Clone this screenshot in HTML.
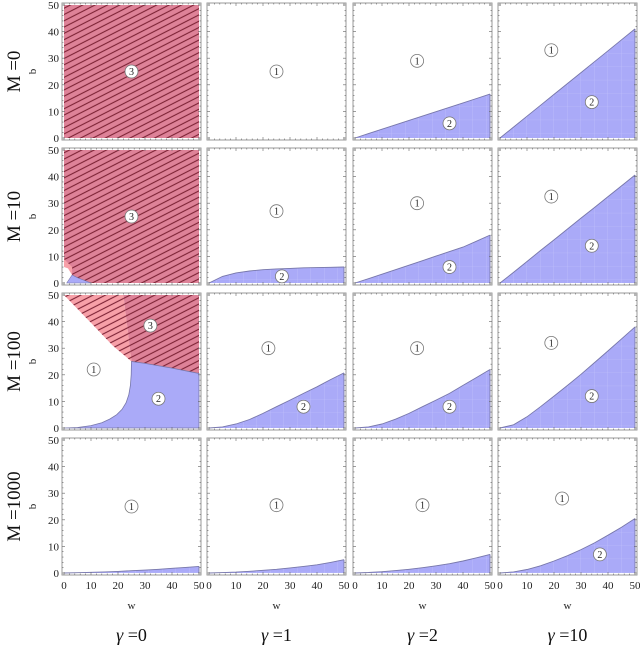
<!DOCTYPE html>
<html><head><meta charset="utf-8"><style>
body{margin:0;background:#fff;width:640px;height:645px;overflow:hidden}
text{font-family:"Liberation Serif","Times New Roman",Times,serif}
</style></head><body>
<svg id="c" width="640" height="645" viewBox="0 0 640 645" xmlns="http://www.w3.org/2000/svg">
<defs>
<pattern id="hatch" patternUnits="userSpaceOnUse" width="10" height="5.6" patternTransform="rotate(-27)">
<line x1="0" y1="2.8" x2="10" y2="2.8" stroke="#7c2234" stroke-width="1.1"/>
</pattern>
<pattern id="bgrid" patternUnits="userSpaceOnUse" width="13.5" height="13.3">
<path d="M0 0H13.5M0 0V13.3" stroke="#c4c4fb" stroke-width="0.6" fill="none"/>
</pattern>
</defs>
</svg>
<script>
// ---- data ----
const mLabels=["M =0","M =10","M =100","M =1000"];
const gammaLabels=["=0","=1","=2","=10"];
const tickVals=[0,10,20,30,40,50];
const wGrid=[0,5,10,15,20,25,30,35,40,45,50];
const r1c3=[0,1.65,3.3,4.95,6.6,8.25,9.9,11.55,13.2,14.85,16.5];
const r1c4=[0,4.1,8.2,12.3,16.4,20.5,24.6,28.7,32.8,36.9,41];
const r2c2=[0,2.5,3.8,4.5,5,5.3,5.5,5.7,5.8,5.9,6];
const r2c3=[0,1.6,3.3,5,6.7,8.4,10.1,11.8,13.5,15.7,18];
const r2c4=[0,4,8.1,12.2,16.2,20.3,24.4,28.4,32.5,36.5,40.6];
const r3c2=[0,0.4,1.5,3.2,5.5,8,10.5,13,15.5,18.2,20.7];
const r3c3=[0,0.4,1.5,3.3,5.5,8,10.5,13,16,19,22];
const r3c4=[0,1.2,4.2,8,12,16,20.2,24.6,29,33.5,38];
const r4c1=[0,0.1,0.25,0.4,0.6,0.85,1.1,1.4,1.75,2.1,2.5];
const r4c2=[0,0.15,0.35,0.65,1,1.4,1.9,2.5,3.1,4,5];
const r4c3=[0,0.2,0.5,0.9,1.4,2,2.7,3.5,4.5,5.7,7];
const r4c4=[0,0.4,1.3,2.7,4.5,6.5,8.8,11.3,14.2,17.2,20.5];
const curves=[[null,null,r1c3,r1c4],[null,r2c2,r2c3,r2c4],[null,r3c2,r3c3,r3c4],[r4c1,r4c2,r4c3,r4c4]];
const r2c1White=[[0,0],[0,6],[1.5,5.5],[3,3],[1,0]];
const r2c1Blue=[[1,0],[3,3],[5,2],[8,0.8],[10,0]];
const r3c1Light=[[0,50],[22,50],[25,25],[18,31],[10,39.5],[0,50]];
const r3c1Dark=[[22,50],[50,50],[50,20.5],[40,22.5],[30,24.3],[25,25]];
const r3c1Blue=[[0,0],[5,0.2],[10,0.9],[14,2],[17,3.4],[19.5,5],[21.5,7],[23,9.5],[24,12.5],[24.6,16],[24.9,20],[25,25],[30,24.3],[40,22.5],[50,20.5],[50,0]];
const labels=[[0,0,25,25,"3"],[0,1,25,25,"1"],[0,2,23,29,"1"],[0,2,35,5.5,"2"],[0,3,19,33,"1"],[0,3,34,13.5,"2"],
[1,0,25,25,"3"],[1,1,25,27,"1"],[1,1,27,2.5,"2"],[1,2,23,30,"1"],[1,2,35,6,"2"],[1,3,19,32.5,"1"],[1,3,34,14,"2"],
[2,0,32,38.5,"3"],[2,0,11,22,"1"],[2,0,35,11,"2"],[2,1,22,30,"1"],[2,1,35,8,"2"],[2,2,23,30,"1"],[2,2,35,8,"2"],[2,3,19,32,"1"],[2,3,34,12,"2"],
[3,0,25,25,"1"],[3,1,25,25.5,"1"],[3,2,25,25.5,"1"],[3,3,23,28,"1"],[3,3,37,7,"2"]];
// ---- layout ----
const colX=[64,209,355,500], rowY=[5,150,295,440], PW=135, PH=133;
const svg=document.getElementById('c');
const NS="http://www.w3.org/2000/svg";
const FF='"Liberation Serif","Times New Roman",Times,serif';
function mk(t,a,p){const e=document.createElementNS(NS,t);for(const k in a)e.setAttribute(k,a[k]);if(t==='text')e.style.fontFamily=FF;(p||svg).appendChild(e);return e;}
function sx(c,w){return colX[c]+w/50*PW;}
function sy(r,b){return rowY[r]+PH-b/50*PH;}
function polyStr(r,c,pts){return pts.map(p=>sx(c,p[0]).toFixed(1)+","+sy(r,p[1]).toFixed(1)).join(" ");}
for(let r=0;r<4;r++)for(let c=0;c<4;c++){
 const g=mk('g',{});
 
 
 const x0=colX[c],y0=rowY[r];
 mk('rect',{x:x0-2,y:y0-2,width:PW+4,height:PH+4,fill:'#fff',stroke:'#999','stroke-width':1},g);
 const cv=curves[r][c];
 if(r<2&&c===0){
  const red=mk('rect',{x:x0,y:y0,width:PW,height:PH,fill:'#de8298'},g);
  
  mk('rect',{x:x0,y:y0,width:PW,height:PH,fill:'url(#hatch)'},g);
  if(r===1){
   mk('polygon',{points:polyStr(r,c,[[0,3],[0,9],[3,6],[3,3]]),fill:'#f7a0a8'},g);
   mk('polygon',{points:polyStr(r,c,r2c1White),fill:'#fff'},g);
   const b=mk('polygon',{points:polyStr(r,c,r2c1Blue),fill:'#aaaaf8',stroke:'#7777aa','stroke-width':0.6},g);
   
  }
 } else if(r===2&&c===0){
  mk('polygon',{points:polyStr(r,c,r3c1Light),fill:'#f7a0a8'},g);
  mk('polygon',{points:polyStr(r,c,r3c1Dark),fill:'#de8298'},g);
  mk('polygon',{points:polyStr(r,c,r3c1Light),fill:'url(#hatch)'},g);
  mk('polygon',{points:polyStr(r,c,r3c1Dark),fill:'url(#hatch)'},g);
  const b=mk('polygon',{points:polyStr(r,c,r3c1Blue),fill:'#aaaaf8',stroke:'#7777aa','stroke-width':0.8},g);
  
 } else if(cv){
  const pts=wGrid.map((w,i)=>[w,cv[i]]);pts.push([50,0]);
  const p=mk('polygon',{points:polyStr(r,c,pts),fill:'#aaaaf8'},g);
  
  mk('polygon',{points:polyStr(r,c,pts),fill:'url(#bgrid)'},g);
  mk('polyline',{points:polyStr(r,c,wGrid.map((w,i)=>[w,cv[i]])),fill:'none',stroke:'#7777aa','stroke-width':0.9},g);
  mk('line',{x1:sx(c,50),y1:sy(r,0),x2:sx(c,50),y2:sy(r,cv[10]),stroke:'#7777aa','stroke-width':0.9},g);
 }
 let d="";
 for(let v=0;v<=50;v+=2){const L=(v%10===0)?3:1.5;const X=sx(c,v),Y=sy(r,v);
  d+=`M${X} ${y0+PH+2}v${-L}M${X} ${y0-2}v${L}M${x0-2} ${Y}h${L}M${x0+PW+2} ${Y}h${-L}`;}
 mk('path',{d:d,stroke:'#666','stroke-width':0.6,fill:'none'},g);
 if(c===0){for(const v of tickVals){const t=mk('text',{x:x0-5,y:sy(r,v)+4,'text-anchor':'end','font-size':11,fill:'#222'});t.textContent=v;}}
 if(r===3){for(const v of tickVals){const t=mk('text',{x:sx(c,v),y:y0+PH+16,'text-anchor':'middle','font-size':11,fill:'#222'});t.textContent=v;}}
}
for(const L of labels){
 const [r,c,w,b,s]=L;const X=sx(c,w),Y=sy(r,b);
 const g=mk('g',{});
 
 
 mk('circle',{cx:X,cy:Y,r:6.5,fill:'#fff',stroke:'#777','stroke-width':0.8},g);
 const t=mk('text',{x:X,y:Y+3.5,'text-anchor':'middle','font-size':10,fill:'#222'},g);t.textContent=s;
}
for(let r=0;r<4;r++){
 const cy=rowY[r]+PH/2;
 const t=mk('text',{x:0,y:0,transform:`translate(20,${cy}) rotate(-90)`,'text-anchor':'middle','font-size':19,fill:'#111'});
 t.textContent=mLabels[r];
 const b=mk('text',{x:0,y:0,transform:`translate(36,${cy}) rotate(-90)`,'text-anchor':'middle','font-size':11,fill:'#222'});
 b.textContent='b';
}
for(let c=0;c<4;c++){
 const cx=colX[c]+PW/2;
 const w=mk('text',{x:cx,y:609,'text-anchor':'middle','font-size':11,fill:'#222'});
 w.textContent='w';
 const gl=mk('text',{x:cx,y:641,'text-anchor':'middle','font-size':18,fill:'#111'});
 
 const ts=mk('tspan',{'font-style':'italic'},gl);ts.textContent='γ ';
 const ts2=mk('tspan',{},gl);ts2.textContent=gammaLabels[c];
}
</script>
</body></html>
